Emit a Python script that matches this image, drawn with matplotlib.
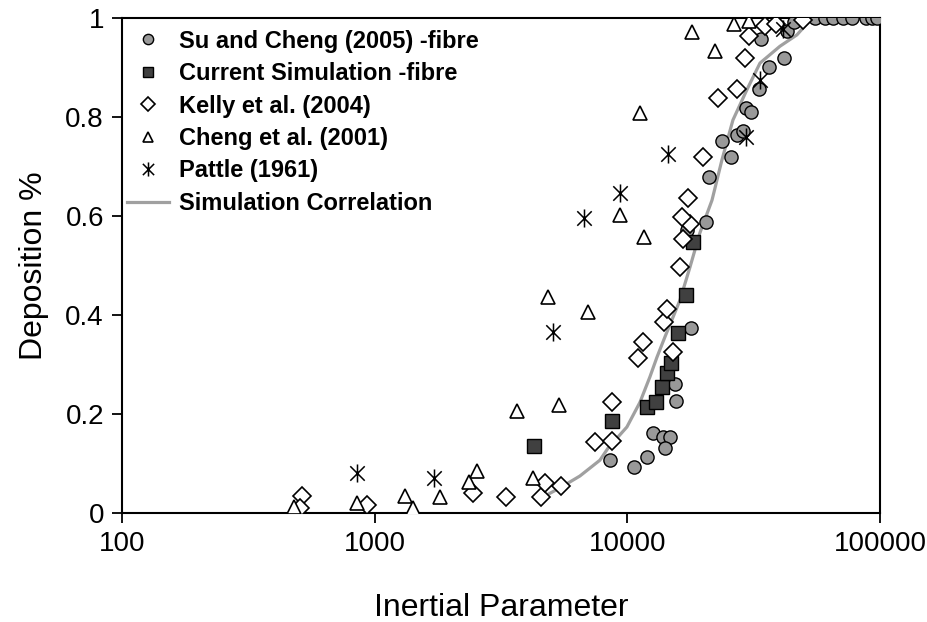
import numpy as np
import matplotlib
matplotlib.use('Agg')
import matplotlib.pyplot as plt
from matplotlib.ticker import FixedLocator, NullLocator
from matplotlib.path import Path

plt.rcParams['font.family'] = ['Liberation Sans', 'DejaVu Sans']

# Su and Cheng (2005) -fibre
su_x = [8540, 10620, 11960, 12630, 13830, 14750, 14090, 15420, 15570, 17860,
        17210, 20470, 21040, 25700, 23670, 27160, 28660, 29470, 30850, 33190,
        36310, 41690, 33800, 42830, 45630, 49550, 55250, 60530, 65150, 71310,
        77370, 87960, 92900, 97200]
su_y = [0.107, 0.093, 0.113, 0.162, 0.154, 0.154, 0.131, 0.261, 0.226, 0.374,
        0.572, 0.588, 0.679, 0.719, 0.752, 0.764, 0.772, 0.818, 0.810, 0.857,
        0.901, 0.919, 0.958, 0.974, 0.992, 1.0, 1.0, 1.0, 1.0, 1.0,
        1.0, 1.0, 1.0, 1.0]

# Current Simulation -fibre
cur_x = [4270, 8690, 11960, 12980, 13710, 14350, 14890, 15860, 17060, 18190]
cur_y = [0.135, 0.186, 0.214, 0.224, 0.255, 0.283, 0.303, 0.364, 0.440, 0.547]

# Kelly et al. (2004)
kel_x = [515, 506, 932, 2449, 3309, 4550, 4720, 5460, 7450, 8690,
         8690, 11020, 11530, 15150, 13960, 14350, 16150, 16600, 17700, 16440,
         17380, 19910, 22840, 27160, 29180, 30290, 35050, 38730, 49550]
kel_y = [0.034, 0.010, 0.016, 0.040, 0.032, 0.032, 0.061, 0.055, 0.143, 0.145,
         0.224, 0.313, 0.345, 0.325, 0.386, 0.412, 0.497, 0.554, 0.584, 0.598,
         0.636, 0.719, 0.838, 0.857, 0.919, 0.964, 0.984, 0.988, 0.996]

# Cheng et al. (2001)
che_x = [479, 851, 1318, 1418, 1813, 2361, 2541, 4230, 3657, 5360,
         4850, 6980, 9350, 11630, 11220, 18020, 22220, 26410, 30290]
che_y = [0.012, 0.020, 0.034, 0.010, 0.032, 0.063, 0.085, 0.071, 0.206, 0.218,
         0.436, 0.406, 0.602, 0.558, 0.808, 0.972, 0.933, 0.988, 0.994]

# Pattle (1961)
pat_x = [851, 1717, 5080, 6730, 9350, 14480, 29470, 33500, 41300]
pat_y = [0.081, 0.071, 0.366, 0.596, 0.646, 0.725, 0.760, 0.875, 0.978]

# Simulation Correlation
cor_x = [4390, 5410, 6490, 7790, 8380, 9960, 11220, 12280, 13100, 14090,
         16150, 17700, 19370, 21630, 23670, 26180, 29720, 33500, 40180, 46900, 53800]
cor_y = [0.026, 0.051, 0.075, 0.107, 0.131, 0.174, 0.224, 0.275, 0.315, 0.356,
         0.430, 0.497, 0.566, 0.632, 0.713, 0.794, 0.855, 0.909, 0.943, 0.966, 1.0]

# star marker: X with a vertical bar
star = Path([(0, -1), (0, 1), (-0.8, -0.8), (0.8, 0.8), (-0.8, 0.8), (0.8, -0.8)],
            [Path.MOVETO, Path.LINETO, Path.MOVETO, Path.LINETO, Path.MOVETO, Path.LINETO])

fig = plt.figure(figsize=(9.27, 6.22), dpi=100)
ax = fig.add_axes([0.1316, 0.175, 0.8177, 0.796])

ax.plot(cor_x, cor_y, color='#a0a0a0', lw=2.3, label='Simulation Correlation', zorder=2)
ax.plot(su_x, su_y, 'o', ms=9.5, mfc='#999999', mec='black', mew=1.0,
        label='Su and Cheng (2005) -fibre', zorder=3)
ax.plot(cur_x, cur_y, 's', ms=10, mfc='#404040', mec='black', mew=1.0,
        label='Current Simulation -fibre', zorder=3)
ax.plot(kel_x, kel_y, 'D', ms=9.5, mfc='white', mec='black', mew=1.2,
        label='Kelly et al. (2004)', zorder=3)
ax.plot(che_x, che_y, '^', ms=10, mfc='white', mec='black', mew=1.2,
        label='Cheng et al. (2001)', zorder=3)
ax.plot(pat_x, pat_y, marker=star, ls='none', ms=13, mec='black', mew=1.1,
        label='Pattle (1961)', zorder=3)

ax.set_xscale('log')
ax.set_xlim(100, 100000)
ax.set_ylim(0, 1)
ax.xaxis.set_major_locator(FixedLocator([100, 1000, 10000, 100000]))
ax.xaxis.set_minor_locator(NullLocator())
ax.set_xticklabels(['100', '1000', '10000', '100000'])
ax.set_yticks([0, 0.2, 0.4, 0.6, 0.8, 1.0])
ax.set_yticklabels(['0', '0.2', '0.4', '0.6', '0.8', '1'])
ax.tick_params(direction='out', length=7, width=1.3, labelsize=20, pad=6)
for s in ax.spines.values():
    s.set_linewidth(1.5)

ax.set_xlabel('Inertial Parameter', fontsize=23, labelpad=26)
ax.set_ylabel('Deposition %', fontsize=23, labelpad=12)

h, l = ax.get_legend_handles_labels()
order = [1, 2, 3, 4, 5, 0]
ax.legend([h[i] for i in order], [l[i] for i in order], loc='upper left',
          bbox_to_anchor=(0, 0.986),
          frameon=False, prop={'weight': 'bold', 'size': 17}, markerscale=0.78,
          handlelength=1.8, handletextpad=0.4, labelspacing=0.4,
          borderaxespad=0.2, borderpad=0.0)

plt.savefig('out.png', dpi=100)
